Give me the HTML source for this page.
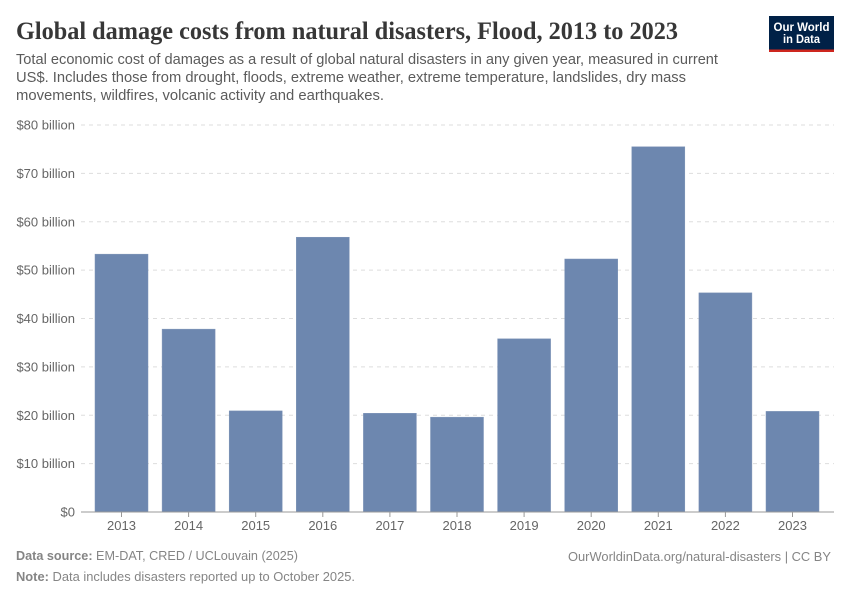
<!DOCTYPE html>
<html lang="en">
<head>
<meta charset="utf-8">
<title>Global damage costs from natural disasters, Flood, 2013 to 2023</title>
<style>
html,body{margin:0;padding:0;background:#fff;width:850px;height:600px;overflow:hidden}
svg{display:block;font-family:"Liberation Sans",sans-serif}
</style>
</head>
<body>
<svg id="chart" width="850" height="600" viewBox="0 0 850 600" xmlns="http://www.w3.org/2000/svg">
  <rect width="850" height="600" fill="#ffffff"/>
  <text x="16" y="39" font-family="'Liberation Serif',serif" font-weight="700" font-size="25" fill="#373737" textLength="662" lengthAdjust="spacingAndGlyphs">Global damage costs from natural disasters, Flood, 2013 to 2023</text>
  <g font-size="14.5" fill="#5b5b5b">
    <text x="16" y="64" textLength="702" lengthAdjust="spacingAndGlyphs">Total economic cost of damages as a result of global natural disasters in any given year, measured in current</text>
    <text x="16" y="82" textLength="670" lengthAdjust="spacingAndGlyphs">US$. Includes those from drought, floods, extreme weather, extreme temperature, landslides, dry mass</text>
    <text x="16" y="100" textLength="368" lengthAdjust="spacingAndGlyphs">movements, wildfires, volcanic activity and earthquakes.</text>
  </g>
  <g>
    <rect x="769" y="16" width="65" height="36" fill="#002147"/>
    <rect x="769" y="49.5" width="65" height="2.5" fill="#ce261e"/>
    <text x="801.5" y="31" text-anchor="middle" font-size="11.5" font-weight="700" fill="#ffffff" textLength="56" lengthAdjust="spacingAndGlyphs">Our World</text>
    <text x="801.5" y="43" text-anchor="middle" font-size="11.5" font-weight="700" fill="#ffffff" textLength="37" lengthAdjust="spacingAndGlyphs">in Data</text>
  </g>
  <g id="grid"></g>
  <g id="y-labels"></g>
  <g id="bars"></g>
  <g id="x-axis"></g>
  <g font-size="12.5" fill="#858585">
    <text x="16" y="560" textLength="282" lengthAdjust="spacingAndGlyphs"><tspan font-weight="700">Data source:</tspan> EM-DAT, CRED / UCLouvain (2025)</text>
    <text x="16" y="581" textLength="339" lengthAdjust="spacingAndGlyphs"><tspan font-weight="700">Note:</tspan> Data includes disasters reported up to October 2025.</text>
    <text x="568" y="561" textLength="263" lengthAdjust="spacingAndGlyphs">OurWorldinData.org/natural-disasters | CC BY</text>
  </g>
</svg>
<script>
const years = ['2013','2014','2015','2016','2017','2018','2019','2020','2021','2022','2023'];
const floodDamageBillions = [53.3,37.8,20.9,56.8,20.4,19.6,35.8,52.3,75.5,45.3,20.8];
const yTicks = [0,10,20,30,40,50,60,70,80];
const yTickLabels = ['$0','$10 billion','$20 billion','$30 billion','$40 billion','$50 billion','$60 billion','$70 billion','$80 billion'];

const NS = 'http://www.w3.org/2000/svg';
const plotLeft = 81, plotRight = 834, plotBottom = 512, plotTop = 125;
const yMax = 80;
const firstCenter = 121.5, lastCenter = 792.5, barWidth = 53;
function yScale(v){ return plotBottom - (v / yMax) * (plotBottom - plotTop); }
function xScale(i){ return firstCenter + i * (lastCenter - firstCenter) / (years.length - 1); }
function make(tag, attrs, parent, text){
  const el = document.createElementNS(NS, tag);
  for (const k in attrs) el.setAttribute(k, attrs[k]);
  if (text !== undefined) el.textContent = text;
  parent.appendChild(el);
  return el;
}
const gridG = document.getElementById('grid');
const yLabG = document.getElementById('y-labels');
const barG = document.getElementById('bars');
const xG = document.getElementById('x-axis');

yTicks.forEach(function(t, i){
  if (t !== 0) {
    const g = make('line', {x1: plotLeft, x2: plotRight, y1: yScale(t), y2: yScale(t), stroke: '#dddddd', 'stroke-width': 1, 'stroke-dasharray': '4,4'}, gridG);
    
    
  }
  const lab = make('text', {x: 75, y: yScale(t) + 4.5, 'text-anchor': 'end', 'font-size': 13, fill: '#666666'}, yLabG, yTickLabels[i]);
  
  
});

years.forEach(function(year, i){
  const top = yScale(floodDamageBillions[i]);
  const bar = make('rect', {x: xScale(i) - barWidth / 2, y: top, width: barWidth, height: plotBottom - top, fill: '#6d87af', stroke: '#7f95b8', 'stroke-width': 0.5}, barG);
  
  
  const tick = make('line', {x1: xScale(i), x2: xScale(i), y1: plotBottom, y2: plotBottom + 5, stroke: '#999999', 'stroke-width': 1}, xG);
  
  
  const lab = make('text', {x: xScale(i), y: plotBottom + 18, 'text-anchor': 'middle', 'font-size': 13, fill: '#666666'}, xG, year);
  
  
});

const axis = make('line', {x1: plotLeft, x2: plotRight, y1: plotBottom, y2: plotBottom, stroke: '#999999', 'stroke-width': 1}, xG);


</script>
</body>
</html>
